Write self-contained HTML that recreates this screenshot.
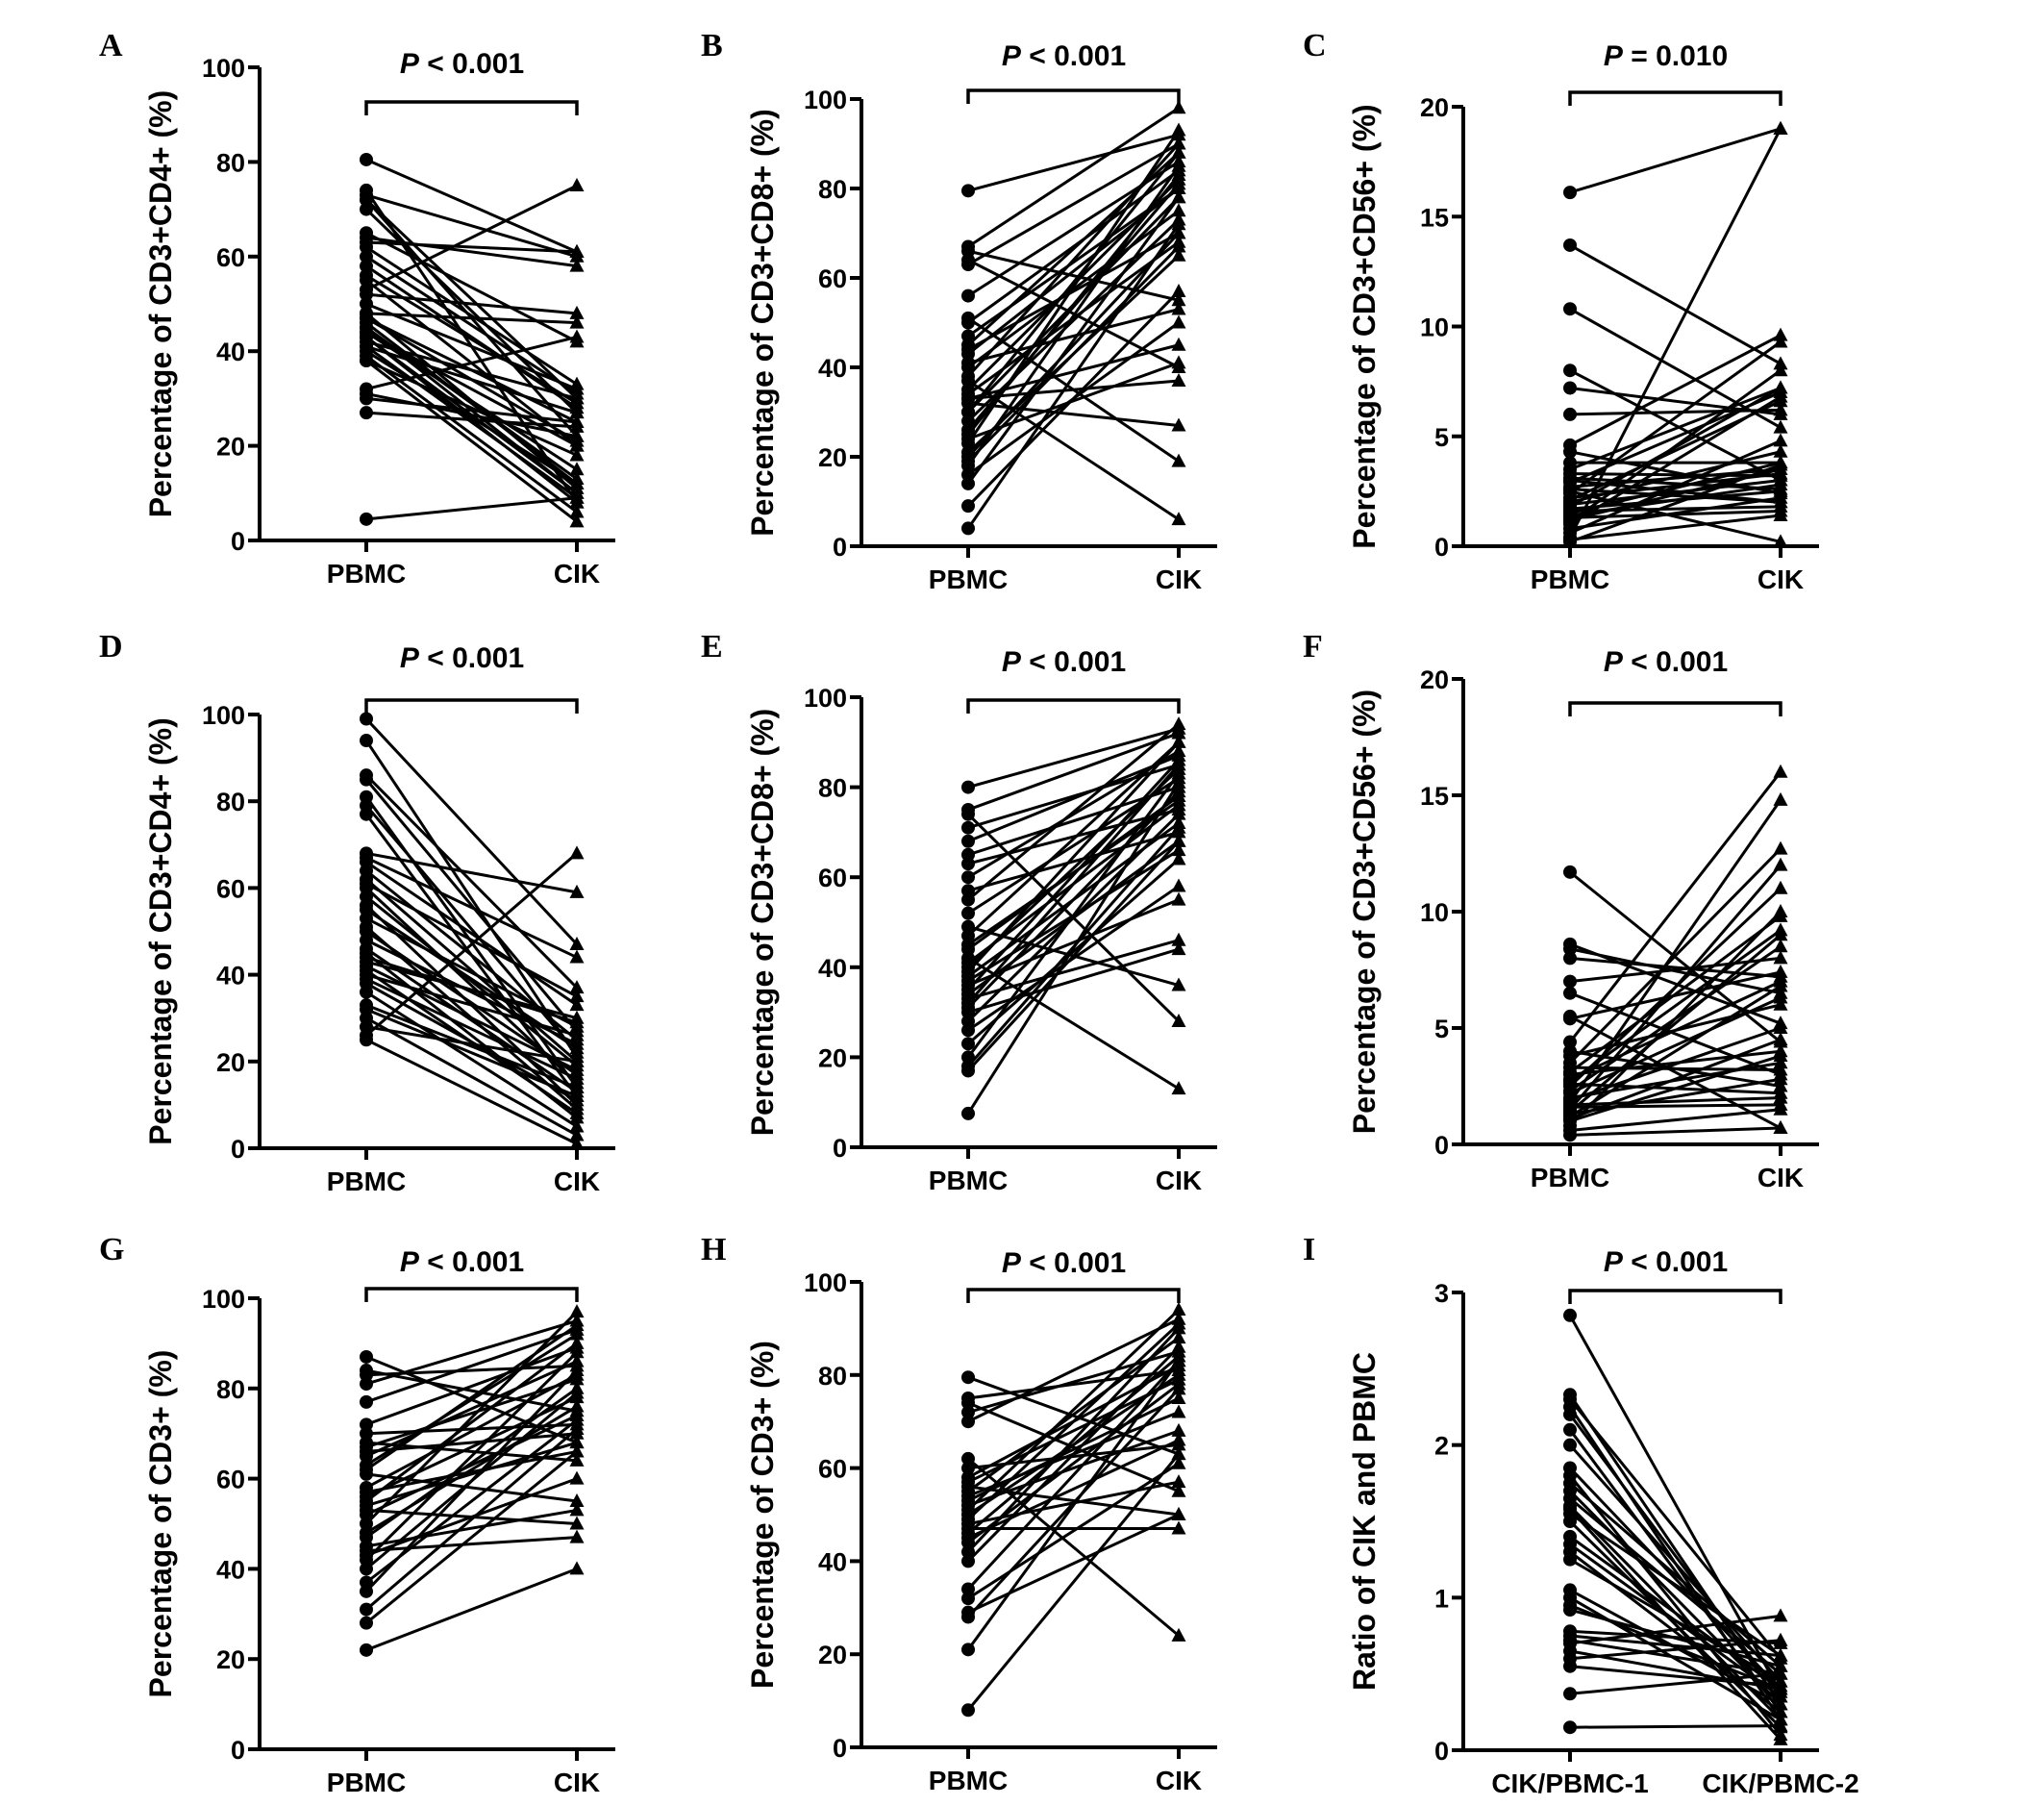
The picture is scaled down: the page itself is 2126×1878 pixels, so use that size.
<!DOCTYPE html>
<html><head><meta charset="utf-8">
<style>
html,body{margin:0;padding:0;background:#fff;}
svg{display:block;}
text{font-family:"Liberation Sans",Arial,sans-serif;font-weight:bold;fill:#000;}
.lt{font-family:"Liberation Serif","Times New Roman",serif;font-size:34px;}
</style></head>
<body>
<svg id="fig" width="2126" height="1878" viewBox="0 0 2126 1878" xmlns="http://www.w3.org/2000/svg">
<rect width="2126" height="1878" fill="#fff"/>
</svg>
<script>
// ---- data ----
const aPbmc=[80.5,74,73,72,72,64,63,62,65,58,55,53,52,48,47,46,45,44,44,43,42,41,40,39,38,38,32,31,30,27,4.5,47,45,43,41,50,56,60,70,48];
const aCik =[61,8,60,30,22,58,61,33,42,28,20,75,48,46,25,12,10,20,15,8,30,27,12,6,4,18,43,22,25,24,9,21,13,10,9,32,29,31,27,11];
const bPbmc=[79.5,67,66,64,63,56,51,50,47,45,44,41,40,37,35,34,33,33,32,30,28,25,24,23,21,20,19,18,16,14,9,4,38,43,30,26];
const bCik =[92,98,55,40,90,86,19,84,80,88,70,53,75,6,82,68,45,37,27,78,73,83,41,93,65,70,67,85,50,78,57,72,90,80,88,81];
const cPbmc=[16.1,13.7,10.8,8,7.2,6,4.6,4.3,3.8,3.5,3.3,3.1,2.9,2.7,2.6,2.4,2.2,2.1,2.0,1.9,1.8,1.7,1.6,1.5,1.4,1.3,1.2,1.0,0.8,0.6,0.4,0.3,0.2,2.5,1.1,3.0];
const cCik =[19,8.3,5.4,3,6,6.2,9.6,2.4,3.8,7.2,3.2,2.6,7,3.5,2,9.3,3.3,6.6,4.3,3.0,7.2,2.5,1.8,3.8,2.8,1.6,3.5,6.8,2.2,4.8,19,1.4,3.7,0.2,8,2.0];
const dPbmc=[99,94,86,85,81,79,77,68,67,66,64,62,61,60,58,56,55,53,51,50,48,46,45,44,42,41,40,38,36,33,32,30,28,26,25,43,39];
const dCik =[47,21,37,27,14,22,12,59,44,33,25,20,35,15,19,10,23,28,9,17,24,13,7,29,18,8,26,11,5,14,12,3,20,68,1,30,16];
const ePbmc=[80,75,74,71,68,65,63,60,57,55,52,49,47,44,42,41,40,38,37,36,35,34,33,31,30,28,26,23,20,18,17,7.5,45,39,32];
const eCik =[93,92,28,85,87,80,75,88,70,94,82,36,90,78,13,76,84,72,66,55,86,68,46,79,44,74,58,64,83,71,68,81,77,90,85];
const fPbmc=[11.7,8.6,8.4,8,7,6.5,5.5,5.4,4.4,4,3.8,3.5,3.3,3.1,3,2.8,2.6,2.5,2.3,2.2,2,1.9,1.8,1.6,1.5,1.4,1.3,1.2,1.1,1,0.8,0.6,0.4,2.7,1.7];
const fCik =[4.4,5.2,6.5,7.2,8,3,0.7,7.4,16,2.5,6,12.7,3.2,9.8,4,7,2.2,11,8.5,6.3,3.5,5,14.8,1.7,12,9,2.8,6.8,4.5,3.8,10,1.5,0.7,9.2,2.0];
const gPbmc=[87,84,83,81,77,72,70,68,67,66,65,63,61,57,56,55,54,53,52,50,47,45,44,43,42,37,35,31,28,22,58,62,48,40];
const gCik =[68,75,85,95,93,89,72,64,82,70,86,92,55,66,78,90,68,50,74,97,80,53,47,60,88,73,84,71,66,40,83,94,76,79];
const hPbmc=[79.5,75,74,72,70,62,60,58,56,55,53,52,51,50,48,47,46,45,44,42,40,34,32,29,28,21,8,54,49,57];
const hCik =[63,81,55,85,92,24,65,82,50,88,75,68,94,80,57,47,84,66,78,90,86,83,61,50,77,83,63,72,91,79];
const iPbmc=[2.85,2.33,2.3,2.25,2.2,2.1,2.0,1.85,1.8,1.75,1.7,1.65,1.6,1.55,1.5,1.4,1.35,1.3,1.25,1.05,1.0,0.95,0.92,0.78,0.75,0.72,0.7,0.65,0.55,0.37,0.15,0.6,1.58];
const iCik =[0.38,0.3,0.6,0.2,0.35,0.25,0.45,0.4,0.1,0.55,0.3,0.5,0.2,0.62,0.15,0.4,0.35,0.25,0.45,0.3,0.2,0.4,0.55,0.7,0.62,0.5,0.88,0.4,0.42,0.5,0.16,0.72,0.07];
const pctTicks=[0,20,40,60,80,100];
const smallTicks=[0,5,10,15,20];
const ratioTicks=[0,1,2,3];
const pLabels=["< 0.001","< 0.001","= 0.010","< 0.001","< 0.001","< 0.001","< 0.001","< 0.001","< 0.001"];

// ---- layout ----
const panels=[
 {id:'a',L:'A',ax:270,top:70,bot:562,max:100,ticks:pctTicks,title:'Percentage of CD3+CD4+ (%)',p:aPbmc,c:aCik,br:106,pt:76,cats:['PBMC','CIK']},
 {id:'b',L:'B',ax:896,top:103,bot:568,max:100,ticks:pctTicks,title:'Percentage of CD3+CD8+ (%)',p:bPbmc,c:bCik,br:94,pt:68,cats:['PBMC','CIK']},
 {id:'c',L:'C',ax:1522,top:111,bot:568,max:20,ticks:smallTicks,title:'Percentage of CD3+CD56+ (%)',p:cPbmc,c:cCik,br:96,pt:68,cats:['PBMC','CIK']},
 {id:'d',L:'D',ax:270,top:743,bot:1194,max:100,ticks:pctTicks,title:'Percentage of CD3+CD4+ (%)',p:dPbmc,c:dCik,br:728,pt:694,cats:['PBMC','CIK']},
 {id:'e',L:'E',ax:896,top:725,bot:1193,max:100,ticks:pctTicks,title:'Percentage of CD3+CD8+ (%)',p:ePbmc,c:eCik,br:728,pt:698,cats:['PBMC','CIK']},
 {id:'f',L:'F',ax:1522,top:706,bot:1190,max:20,ticks:smallTicks,title:'Percentage of CD3+CD56+ (%)',p:fPbmc,c:fCik,br:731,pt:698,cats:['PBMC','CIK']},
 {id:'g',L:'G',ax:270,top:1350,bot:1819,max:100,ticks:pctTicks,title:'Percentage of CD3+ (%)',p:gPbmc,c:gCik,br:1340,pt:1322,cats:['PBMC','CIK']},
 {id:'h',L:'H',ax:896,top:1333,bot:1817,max:100,ticks:pctTicks,title:'Percentage of CD3+ (%)',p:hPbmc,c:hCik,br:1341,pt:1323,cats:['PBMC','CIK']},
 {id:'i',L:'I',ax:1522,top:1344,bot:1820,max:3,ticks:ratioTicks,title:'Ratio of CIK and PBMC',p:iPbmc,c:iCik,br:1342,pt:1322,cats:['CIK/PBMC-1','CIK/PBMC-2']}
];
const NS='http://www.w3.org/2000/svg';
const svg=document.getElementById('fig');
function mk(tag,attrs,parent){const e=document.createElementNS(NS,tag);for(const k in attrs)e.setAttribute(k,attrs[k]);(parent||svg).appendChild(e);return e;}

panels.forEach((P,idx)=>{
 const g=mk('g',{});
 
 
 const y=v=>P.bot-(v/P.max)*(P.bot-P.top);
 const x1=P.ax+111, x2=P.ax+330;
 const lt=mk('text',{x:P.ax-167,y:(P.L==='A'||P.L==='B'||P.L==='C')?58:(P.L<'G'?683:1310),class:'lt'},g);
 lt.textContent=P.L;
 
 
 const ya=mk('line',{x1:P.ax,y1:P.top,x2:P.ax,y2:P.bot+1.5,stroke:'#000','stroke-width':4},g);
 
 
 const xa=mk('line',{x1:P.ax-2,y1:P.bot,x2:P.ax+370,y2:P.bot,stroke:'#000','stroke-width':4},g);
 
 
 P.ticks.forEach(t=>{
  const ty=y(t);
  mk('line',{x1:P.ax-12,y1:ty,x2:P.ax,y2:ty,stroke:'#000','stroke-width':4},g);
  const tl=mk('text',{x:P.ax-15,y:ty+10,'text-anchor':'end','font-size':27},g);
  tl.textContent=t;
  
  
 });
 [x1,x2].forEach((xx,k)=>{
  mk('line',{x1:xx,y1:P.bot,x2:xx,y2:P.bot+12,stroke:'#000','stroke-width':4},g);
  const cl=mk('text',{x:xx,y:P.bot+44,'text-anchor':'middle','font-size':28},g);
  cl.textContent=P.cats[k];
  
  
 });
 const cy=(P.top+P.bot)/2;
 const tt=mk('text',{x:0,y:0,'text-anchor':'middle','font-size':32,transform:`translate(${P.ax-92},${cy}) rotate(-90)`},g);
 tt.textContent=P.title;
 
 
 const br=mk('path',{d:`M${x1},${P.br+14} V${P.br} H${x2} V${P.br+14}`,fill:'none',stroke:'#000','stroke-width':3.5},g);
 
 
 const pt=mk('text',{x:(x1+x2)/2-10,y:P.pt,'text-anchor':'middle','font-size':30},g);
 pt.innerHTML='<tspan font-style="italic">P</tspan> '+pLabels[idx];
 
 
 P.p.forEach((v,i)=>{
  const ln=mk('line',{x1:x1,y1:y(v),x2:x2,y2:y(P.c[i]),stroke:'#000','stroke-width':3},g);
  
  
 });
 P.p.forEach(v=>{
  const c=mk('circle',{cx:x1,cy:y(v),r:7,fill:'#000'},g);
  
  
 });
 P.c.forEach(v=>{
  const yy=y(v);
  const tr=mk('polygon',{points:`${x2},${yy-8} ${x2-7.5},${yy+6} ${x2+7.5},${yy+6}`,fill:'#000'},g);
  
  
 });
});
</script>
</body></html>
